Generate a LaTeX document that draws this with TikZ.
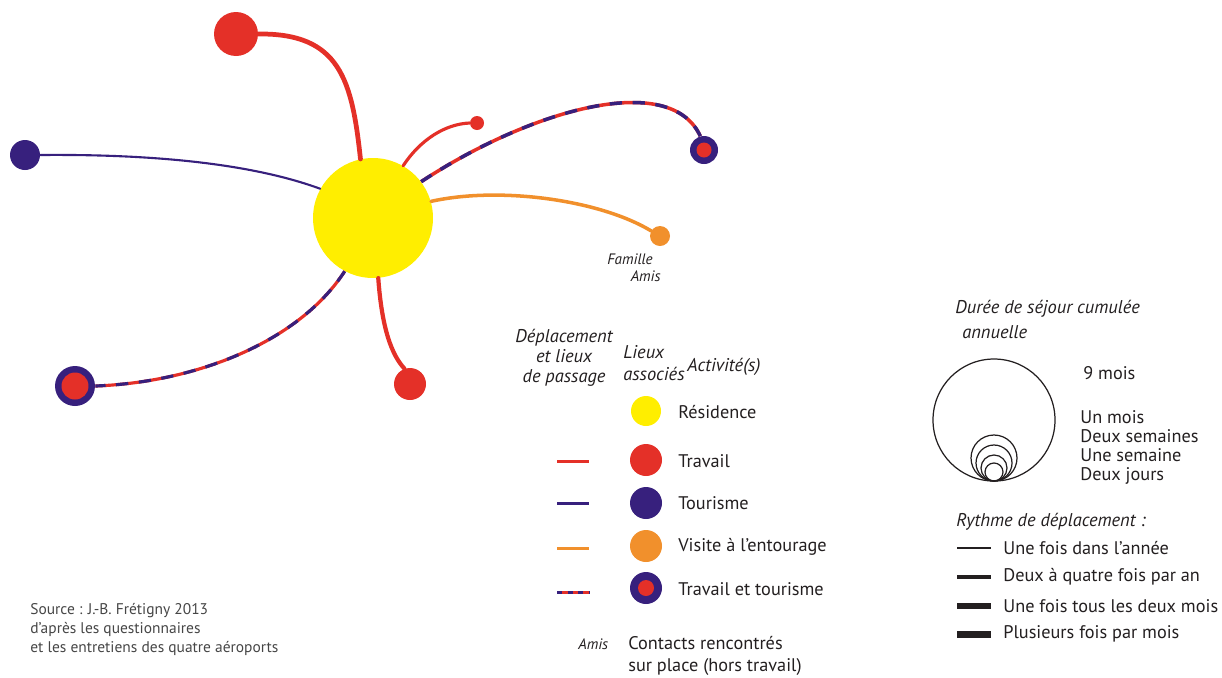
\documentclass[tikz,border=0pt]{standalone}
\usepackage{fontspec}
\setmainfont{PT Sans}
\definecolor{cyellow}{RGB}{255,238,0}
\definecolor{cred}{RGB}{228,48,40}
\definecolor{cblue}{RGB}{55,32,125}
\definecolor{corange}{RGB}{241,144,44}
\definecolor{ctext}{RGB}{35,31,32}
\definecolor{csource}{RGB}{70,70,70}
\usetikzlibrary{positioning}

\begin{document}
\begin{tikzpicture}[x=0.02cm, y=-0.02cm,
  lieu/.style={circle, inner sep=0pt, minimum size=#1},
  trajet/.style={line width=#1, line cap=round},
  mixte/.style={draw=cred, line width=#1, postaction={draw=cblue, line width=#1, dash pattern=on 7pt off 6pt}},
  legtxt/.style={font=\fontsize{10.4}{10.8}\selectfont, text=ctext, inner sep=0pt},
  legtitle/.style={font=\fontsize{10.5}{11.4}\selectfont\itshape, text=ctext, inner sep=0pt}]
  \useasboundingbox (0,0) rectangle (1222,677);

  % Residence and places
  \node[lieu=2.4cm, fill=cyellow] (res) at (373,218) {};
  \node[lieu=0.88cm, fill=cred] (trav1) at (236,34) {};
  \node[lieu=0.6cm, fill=cblue] (tour1) at (25,155) {};
  \node[lieu=0.28cm, fill=cred] (trav2) at (477,123) {};
  \node[lieu=0.56cm, fill=cblue] (tt1) at (704,150) {};
  \node[lieu=0.3cm, fill=cred] (tt1c) at (tt1) {};
  \node[lieu=0.4cm, fill=corange] (vis1) at (660,236) {};
  \node[lieu=0.64cm, fill=cred] (trav3) at (410,384) {};
  \node[lieu=0.8cm, fill=cblue] (tt2) at (75,386) {};
  \node[lieu=0.54cm, fill=cred] (tt2c) at (tt2) {};
  \node[font=\fontsize{8.6}{9}\selectfont\itshape, text=ctext, inner sep=0pt, anchor=east] (famille) at (653,259) {Famille};
  \node[font=\fontsize{8.6}{9}\selectfont\itshape, text=ctext, inner sep=0pt, anchor=east] (amis) at (661,276) {Amis};

  % Trips
  \draw[cred, trajet=2.7pt] (trav1.east) .. controls (340,33) and (352,80) .. (res.102);
  \draw[cblue, trajet=1.2pt] (tour1.east) .. controls (150,154) and (250,163) .. (res.151);
  \draw[cred, trajet=1.8pt] (res.60) .. controls (420,140) and (445,124) .. (trav2.west);
  \draw[mixte=2pt] (res.37) .. controls (530,110) and (670,70) .. (tt1.105);
  \draw[corange, trajet=2pt] (res.16) .. controls (500,186) and (600,200) .. (vis1.150);
  \draw[cred, trajet=2.4pt] (res.-85) .. controls (382,330) and (392,355) .. (trav3.110);
  \draw[mixte=1.8pt] (res.-118) .. controls (300,340) and (200,382) .. (tt2.east);

  % Legend: trips and places
  \node[legtitle, align=center] (tdep) at (564,358) {Déplacement\\et lieux\\de passage};
  \node[legtitle, align=left, anchor=west, font=\fontsize{10.5}{13}\selectfont\itshape] (tlieux) at (623,363) {Lieux\\associés};
  \node[legtitle, anchor=west] (tact) at (687,367) {Activité(s)};

  \node[lieu=0.6cm, fill=cyellow] (lres) at (646,411) {};
  \node[lieu=0.64cm, fill=cred] (ltrav) at (646,460) {};
  \node[lieu=0.64cm, fill=cblue] (ltour) at (646,503) {};
  \node[lieu=0.64cm, fill=corange] (lvis) at (646,546) {};
  \node[lieu=0.64cm, fill=cblue] (ltt) at (646,588) {};
  \node[lieu=0.32cm, fill=cred] (lttc) at (ltt) {};

  \node[legtxt, anchor=west] (lresx) at (678,412) {Résidence};
  \node[legtxt, anchor=west] (ltravx) at (678,461) {Travail};
  \node[legtxt, anchor=west] (ltourx) at (678,503) {Tourisme};
  \node[legtxt, anchor=west] (lvisx) at (678,547) {Visite à l’entourage};
  \node[legtxt, anchor=west] (lttx) at (678,589) {Travail et tourisme};

  \coordinate (a1) at (557,461); \coordinate (b1) at (589,461);
  \coordinate (a2) at (557,503); \coordinate (b2) at (589,503);
  \coordinate (a3) at (557,548); \coordinate (b3) at (589,548);
  \coordinate (a4) at (557,592); \coordinate (b4) at (589,592);
  \draw[cred, line width=1.7pt] (a1) -- (b1);
  \draw[cblue, line width=1.7pt] (a2) -- (b2);
  \draw[corange, line width=1.7pt] (a3) -- (b3);
  \draw[draw=cred, line width=1.7pt, postaction={draw=cblue, dash pattern=on 3pt off 3pt}] (a4) -- (b4);

  \node[font=\fontsize{8.6}{9}\selectfont\itshape, text=ctext, inner sep=0pt, anchor=west] (lamis) at (578,644) {Amis};
  \node[legtxt, anchor=north west, align=left, font=\fontsize{10.4}{12.4}\selectfont] (lcont) at (628,636) {Contacts rencontrés\\sur place (hors travail)};

  % Legend: duration
  \node[legtitle, anchor=west] (tdur) at (955,309) {Durée de séjour cumulée};
  \node[legtitle, anchor=west] (tann) at (962,332) {annuelle};
  \draw[ctext, line width=0.7pt] (994,420) circle[radius=61];
  \foreach \r in {23,18,13,9}
    \draw[ctext, line width=0.7pt] (994,481-\r) circle[radius=\r];
  \node[legtxt, anchor=west] (d9) at (1083,373) {9 mois};
  \node[legtxt, anchor=north west, align=left] (dlist) at (1080,410) {Un mois\\Deux semaines\\Une semaine\\Deux jours};

  % Legend: rhythm
  \node[legtitle, anchor=west] (trythme) at (956,522) {Rythme de déplacement :};
  \foreach \y/\w/\t in {548/1.2pt/Une fois dans l’année, 577/2pt/Deux à quatre fois par an, 606/3pt/Une fois tous les deux mois, 634/4pt/Plusieurs fois par mois}{
    \draw[ctext, line width=\w] (957,\y) -- (991,\y);
    \node[legtxt, anchor=west] (ry\y) at (1003,\y) {\t};
  }

  % Source
  \node[font=\fontsize{8.8}{10.8}\selectfont, text=csource, inner sep=0pt, anchor=north west, align=left] (src) at (30,603) {Source : J.-B. Frétigny 2013\\d’après les questionnaires\\et les entretiens des quatre aéroports};
\end{tikzpicture}
\end{document}
